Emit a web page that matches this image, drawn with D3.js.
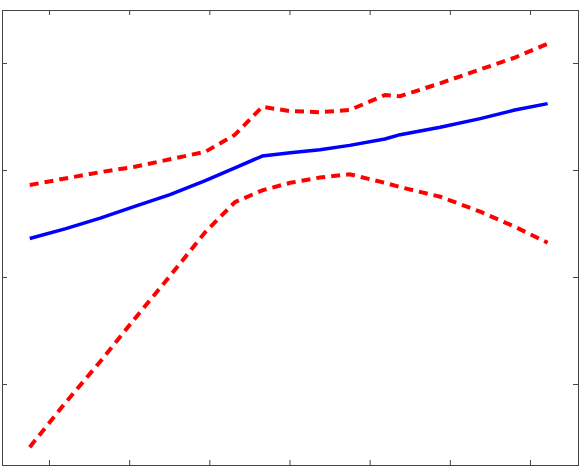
<!DOCTYPE html>
<html>
<head>
<meta charset="utf-8">
<script src="https://cdn.jsdelivr.net/npm/d3@7"></script>
<style>
  body { margin: 0; background: #fff; }
  .domain { display: none; }
</style>
</head>
<body>
<script>
var svg_width  = 583;
var svg_height = 471;

// data
var xValues = [7.6, 12.0, 16.4, 20.7, 25.1, 29.5, 33.2, 36.6, 40.1, 43.8, 47.5, 51.9, 53.8, 58.8, 63.8, 68.1, 72.2];
var meanLine = [2.36, 2.45, 2.55, 2.66, 2.77, 2.90, 3.02, 3.13, 3.16, 3.19, 3.23, 3.29, 3.33, 3.40, 3.48, 3.56, 3.62];
var upperBound = [2.86, 2.92, 2.98, 3.03, 3.10, 3.17, 3.33, 3.59, 3.55, 3.54, 3.56, 3.70, 3.69, 3.81, 3.94, 4.05, 4.18];
var lowerBound = [0.41, 0.82, 1.21, 1.61, 2.01, 2.42, 2.70, 2.81, 2.88, 2.93, 2.96, 2.88, 2.84, 2.75, 2.61, 2.47, 2.32];
var xTicks = [10, 20, 30, 40, 50, 60, 70];
var yTicks = [1, 2, 3, 4];

var margin = {left: 2, right: 5, top: 10, bottom: 6};

var svg = d3.select('body').append('svg')
            .attr('width', svg_width)
            .attr('height', svg_height);

var x = d3.scaleLinear()
          .domain([4.14, 75.99])
          .range([margin.left, svg_width - margin.right]);

var y = d3.scaleLinear()
          .domain([0.243, 4.495])
          .range([svg_height - margin.bottom, margin.top]);

var plotW = svg_width - margin.left - margin.right;
var plotH = svg_height - margin.top - margin.bottom;

// ticks on all four sides, pointing in
var tickLen = 5;
function styleAxis(g) {
  g.selectAll('.tick line').attr('stroke', '#444');
  g.selectAll('text').remove();
}
svg.append('g')
   .attr('transform', 'translate(0,' + (svg_height - margin.bottom) + ')')
   .call(d3.axisBottom(x).tickValues(xTicks).tickSize(-tickLen))
   .call(styleAxis);
svg.append('g')
   .attr('transform', 'translate(0,' + margin.top + ')')
   .call(d3.axisTop(x).tickValues(xTicks).tickSize(-tickLen))
   .call(styleAxis);
svg.append('g')
   .attr('transform', 'translate(' + margin.left + ',0)')
   .call(d3.axisLeft(y).tickValues(yTicks).tickSize(-tickLen))
   .call(styleAxis);
svg.append('g')
   .attr('transform', 'translate(' + (svg_width - margin.right) + ',0)')
   .call(d3.axisRight(y).tickValues(yTicks).tickSize(-tickLen))
   .call(styleAxis);

svg.append('rect')
   .attr('x', margin.left + 0.5)
   .attr('y', margin.top + 0.5)
   .attr('width', plotW)
   .attr('height', plotH)
   .attr('fill', 'none')
   .attr('stroke', '#444')
   .attr('stroke-width', 1);

var line = d3.line()
             .x((d, i) => x(xValues[i]))
             .y(d => y(d));

svg.append('path')
   .datum(upperBound)
   .attr('d', line)
   .attr('fill', 'none')
   .attr('stroke', '#ff0000')
   .attr('stroke-width', 4)
   .attr('stroke-dasharray', '9,6');

svg.append('path')
   .datum(lowerBound)
   .attr('d', line)
   .attr('fill', 'none')
   .attr('stroke', '#ff0000')
   .attr('stroke-width', 4)
   .attr('stroke-dasharray', '9,6');

svg.append('path')
   .datum(meanLine)
   .attr('d', line)
   .attr('fill', 'none')
   .attr('stroke', '#0000ff')
   .attr('stroke-width', 3.5)
   .attr('stroke-linejoin', 'round');
</script>
</body>
</html>
